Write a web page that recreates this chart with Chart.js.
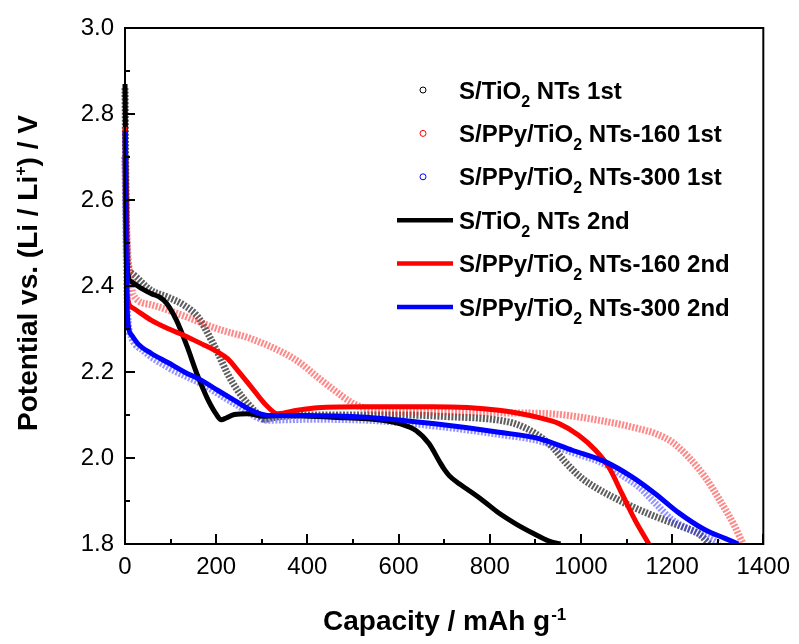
<!DOCTYPE html>
<html>
<head>
<meta charset="utf-8">
<script src="https://cdn.jsdelivr.net/npm/chart.js@4.4.1/dist/chart.umd.min.js"></script>
<style>
html,body{margin:0;padding:0;background:#fff;}
#wrap{width:799px;height:644px;position:relative;}
</style>
</head>
<body>
<div id="wrap"><canvas id="c" width="799" height="644"></canvas></div>
<script>
// ---------------- data ----------------
const xMajorTicks = [0, 200, 400, 600, 800, 1000, 1200, 1400];
const yMajorTicks = [1.8, 2.0, 2.2, 2.4, 2.6, 2.8, 3.0];

// S/TiO2 NTs 1st (black circles)
const tio2FirstCap = [0, 3, 6, 14, 57, 94, 130, 160, 182, 204, 225, 247, 269, 291, 306, 330, 400, 500, 616, 711, 820, 860, 900, 937, 966, 1002, 1039, 1076, 1112, 1149, 1185, 1222, 1258, 1282];
const tio2FirstV   = [2.86, 2.55, 2.45, 2.43, 2.39, 2.374, 2.355, 2.328, 2.289, 2.243, 2.196, 2.157, 2.127, 2.103, 2.09, 2.095, 2.10, 2.10, 2.10, 2.096, 2.088, 2.078, 2.057, 2.026, 1.99, 1.953, 1.927, 1.906, 1.887, 1.870, 1.855, 1.840, 1.824, 1.80];

// S/TiO2 NTs 2nd (black line)
const tio2SecondCap = [0, 3, 6, 14, 35, 58, 76, 91, 113, 136, 158, 180, 200, 211, 222, 240, 269, 306, 350, 455, 565, 602, 638, 667, 689, 700, 711, 733, 755, 784, 820, 857, 895, 930, 955];
const tio2SecondV   = [2.87, 2.55, 2.43, 2.41, 2.395, 2.382, 2.374, 2.36, 2.32, 2.26, 2.195, 2.14, 2.102, 2.089, 2.093, 2.101, 2.103, 2.097, 2.099, 2.095, 2.088, 2.08, 2.064, 2.033, 1.993, 1.974, 1.959, 1.94, 1.924, 1.902, 1.872, 1.847, 1.825, 1.807, 1.80];

// S/PPy/TiO2 NTs-160 1st (red circles)
const ppy160FirstCap = [0, 5, 12, 18, 55, 130, 204, 275, 347, 383, 420, 456, 500, 540, 600, 711, 820, 930, 1054, 1127, 1163, 1200, 1236, 1272, 1309, 1338, 1349, 1356];
const ppy160FirstV   = [2.70, 2.50, 2.42, 2.38, 2.357, 2.33, 2.30, 2.278, 2.245, 2.222, 2.19, 2.16, 2.127, 2.112, 2.108, 2.107, 2.105, 2.103, 2.085, 2.068, 2.057, 2.037, 2.002, 1.956, 1.894, 1.84, 1.815, 1.80];

// S/PPy/TiO2 NTs-160 2nd (red line)
const ppy160SecondCap = [0, 3, 5, 14, 58, 94, 130, 167, 204, 225, 247, 277, 306, 335, 378, 422, 529, 675, 820, 908, 952, 995, 1032, 1061, 1090, 1119, 1149];
const ppy160SecondV   = [2.77, 2.50, 2.38, 2.351, 2.32, 2.301, 2.285, 2.266, 2.246, 2.231, 2.204, 2.165, 2.127, 2.103, 2.111, 2.117, 2.119, 2.119, 2.111, 2.094, 2.08, 2.053, 2.018, 1.979, 1.917, 1.855, 1.80];

// S/PPy/TiO2 NTs-300 1st (blue circles)
const ppy300FirstCap = [0, 3, 6, 14, 40, 94, 167, 240, 313, 400, 529, 675, 820, 908, 981, 1054, 1090, 1127, 1163, 1199, 1236, 1272, 1305];
const ppy300FirstV   = [2.70, 2.45, 2.33, 2.281, 2.25, 2.211, 2.173, 2.127, 2.088, 2.09, 2.088, 2.075, 2.055, 2.04, 2.013, 1.985, 1.96, 1.933, 1.895, 1.857, 1.835, 1.818, 1.80];

// S/PPy/TiO2 NTs-300 2nd (blue line)
const ppy300SecondCap = [0, 2, 4, 7, 15, 28, 58, 94, 130, 167, 204, 240, 277, 313, 386, 529, 675, 820, 908, 981, 1054, 1112, 1163, 1214, 1272, 1316, 1345];
const ppy300SecondV   = [2.76, 2.55, 2.38, 2.31, 2.285, 2.266, 2.243, 2.222, 2.20, 2.181, 2.157, 2.134, 2.111, 2.099, 2.099, 2.095, 2.08, 2.06, 2.045, 2.018, 1.991, 1.956, 1.917, 1.873, 1.833, 1.813, 1.80];

// ---------------- helpers ----------------
const FONT = '"Liberation Sans", Arial, Helvetica, sans-serif';
const pts = (xs, ys) => xs.map((x, i) => ({x: x, y: ys[i]}));

const firstStyle = (color) => ({
  showLine: true, borderColor: color, borderWidth: 7, borderDash: [2, 1.5],
  pointRadius: 0, cubicInterpolationMode: 'monotone', fill: false,
  clip: {left: 4, top: 4, right: 0, bottom: 0}
});
const secondStyle = (color) => ({
  showLine: true, borderColor: color, borderWidth: 5,
  pointRadius: 0, cubicInterpolationMode: 'monotone', fill: false,
  clip: {left: 4, top: 4, right: 0, bottom: 0}
});

const legendRows = [
  {kind: 'circle', color: '#000000', pre: 'S/TiO', sub: '2', post: ' NTs 1st'},
  {kind: 'circle', color: '#ff0000', pre: 'S/PPy/TiO', sub: '2', post: ' NTs-160 1st'},
  {kind: 'circle', color: '#0000ff', pre: 'S/PPy/TiO', sub: '2', post: ' NTs-300 1st'},
  {kind: 'line', color: '#000000', pre: 'S/TiO', sub: '2', post: ' NTs 2nd'},
  {kind: 'line', color: '#ff0000', pre: 'S/PPy/TiO', sub: '2', post: ' NTs-160 2nd'},
  {kind: 'line', color: '#0000ff', pre: 'S/PPy/TiO', sub: '2', post: ' NTs-300 2nd'}
];

const framePlugin = {
  id: 'frame',
  afterDatasetsDraw(chart) {
    const {ctx, chartArea: a, scales: {x, y}} = chart;
    ctx.save();
    ctx.strokeStyle = '#000';
    ctx.lineWidth = 2;
    ctx.strokeRect(a.left, a.top, a.right - a.left, a.bottom - a.top);
    ctx.beginPath();
    for (let v = 0; v <= 1400; v += 100) {
      const px = Math.round(x.getPixelForValue(v));
      const len = xMajorTicks.includes(v) ? 10 : 5;
      ctx.moveTo(px, a.bottom);
      ctx.lineTo(px, a.bottom - len);
    }
    for (let k = 18; k <= 30; k++) {
      const v = k / 10;
      const py = Math.round(y.getPixelForValue(v));
      const len = (k % 2 === 0) ? 10 : 5;
      ctx.moveTo(a.left, py);
      ctx.lineTo(a.left + len, py);
    }
    ctx.stroke();
    ctx.restore();
  }
};

const textPlugin = {
  id: 'texts',
  afterDraw(chart) {
    const {ctx, chartArea: a} = chart;
    ctx.save();
    ctx.fillStyle = '#000';
    ctx.textAlign = 'left';
    ctx.textBaseline = 'alphabetic';

    // legend
    legendRows.forEach((r, i) => {
      const yy = 90 + i * 43.4;
      if (r.kind === 'circle') {
        ctx.beginPath();
        ctx.arc(423, yy, 3, 0, Math.PI * 2);
        ctx.strokeStyle = r.color;
        ctx.lineWidth = 1;
        ctx.stroke();
      } else {
        ctx.beginPath();
        ctx.moveTo(397, yy);
        ctx.lineTo(453, yy);
        ctx.strokeStyle = r.color;
        ctx.lineWidth = 4.5;
        ctx.stroke();
      }
      let xx = 459;
      const base = yy + 8.5;
      ctx.font = 'bold 24px ' + FONT;
      ctx.fillText(r.pre, xx, base);
      xx += ctx.measureText(r.pre).width;
      ctx.font = 'bold 16px ' + FONT;
      ctx.fillText(r.sub, xx, base + 8);
      xx += ctx.measureText(r.sub).width;
      ctx.font = 'bold 24px ' + FONT;
      ctx.fillText(r.post, xx, base);
    });

    // x title
    const xMain = 'Capacity / mAh g', xSup = '-1';
    ctx.font = 'bold 28px ' + FONT;
    const w1 = ctx.measureText(xMain).width;
    ctx.font = 'bold 17px ' + FONT;
    const w2 = ctx.measureText(xSup).width;
    const sx = (a.left + a.right) / 2 - (w1 + w2) / 2;
    ctx.font = 'bold 28px ' + FONT;
    ctx.fillText(xMain, sx, 630);
    ctx.font = 'bold 17px ' + FONT;
    ctx.fillText(xSup, sx + w1 + 1, 620);

    // y title (rotated)
    const yA = 'Potential vs. (Li / Li', ySup = '+', yB = ') / V';
    ctx.translate(37, 273);
    ctx.rotate(-Math.PI / 2);
    ctx.font = 'bold 28px ' + FONT;
    const wa = ctx.measureText(yA).width, wb = ctx.measureText(yB).width;
    ctx.font = 'bold 16px ' + FONT;
    const ws = ctx.measureText(ySup).width;
    const ty = -(wa + ws + wb) / 2;
    ctx.font = 'bold 28px ' + FONT;
    ctx.fillText(yA, ty, 0);
    ctx.font = 'bold 16px ' + FONT;
    ctx.fillText(ySup, ty + wa, -11);
    ctx.font = 'bold 28px ' + FONT;
    ctx.fillText(yB, ty + wa + ws, 0);
    ctx.restore();
  }
};

new Chart(document.getElementById('c'), {
  type: 'scatter',
  data: {
    datasets: [
      Object.assign({label: 'S/TiO2 NTs 1st', data: pts(tio2FirstCap, tio2FirstV), order: 6}, firstStyle('rgba(40,40,40,0.75)')),
      Object.assign({label: 'S/PPy/TiO2 NTs-160 1st', data: pts(ppy160FirstCap, ppy160FirstV), order: 5}, firstStyle('rgba(255,40,40,0.55)')),
      Object.assign({label: 'S/PPy/TiO2 NTs-300 1st', data: pts(ppy300FirstCap, ppy300FirstV), order: 4}, firstStyle('rgba(60,60,255,0.55)')),
      Object.assign({label: 'S/TiO2 NTs 2nd', data: pts(tio2SecondCap, tio2SecondV), order: 3}, secondStyle('#000000')),
      Object.assign({label: 'S/PPy/TiO2 NTs-160 2nd', data: pts(ppy160SecondCap, ppy160SecondV), order: 2}, secondStyle('#ff0000')),
      Object.assign({label: 'S/PPy/TiO2 NTs-300 2nd', data: pts(ppy300SecondCap, ppy300SecondV), order: 1}, secondStyle('#0000ff'))
    ]
  },
  options: {
    responsive: false,
    animation: false,
    devicePixelRatio: 1,
    layout: {padding: {top: 28, right: 35, left: 0, bottom: 0}},
    plugins: {legend: {display: false}, tooltip: {enabled: false}},
    scales: {
      x: {
        type: 'linear', min: 0, max: 1400,
        afterFit(s) { s.height = 100; },
        afterBuildTicks(s) { s.ticks = xMajorTicks.map(v => ({value: v})); },
        ticks: {color: '#000', font: {family: FONT, size: 24}, padding: 9, maxRotation: 0, autoSkip: false,
                callback: (v) => String(v)},
        grid: {display: false, drawTicks: false},
        border: {display: false}
      },
      y: {
        type: 'linear', min: 1.8, max: 3.0,
        afterFit(s) { s.width = 125; },
        afterBuildTicks(s) { s.ticks = yMajorTicks.map(v => ({value: v})); },
        ticks: {color: '#000', font: {family: FONT, size: 24}, padding: 11, autoSkip: false,
                callback: (v) => Number(v).toFixed(1)},
        grid: {display: false, drawTicks: false},
        border: {display: false}
      }
    }
  },
  plugins: [framePlugin, textPlugin]
});
</script>
</body>
</html>
